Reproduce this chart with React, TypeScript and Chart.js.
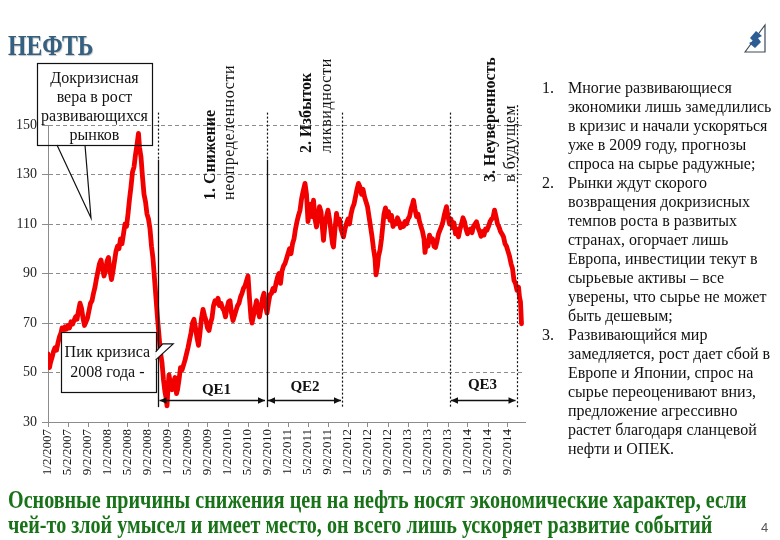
import React, { useEffect, useRef } from 'react';
import { Chart, registerables } from 'chart.js';

Chart.register(...registerables);

// Month index: 0 = 1/2/2007, one unit = one month
const monthIdx = [
  0.0, 0.3, 0.5, 0.8, 1.1, 1.4, 1.7, 2.0, 2.3, 2.6, 2.8, 3.1, 3.4, 3.7, 4.0, 4.3, 4.6, 4.9, 5.2, 5.5, 5.8,
  6.1, 6.4, 6.7, 7.0, 7.3, 7.6, 7.9, 8.2, 8.5, 8.8, 9.1, 9.4, 9.7, 10.0, 10.3, 10.6, 10.9, 11.2, 11.5, 11.8,
  12.1, 12.4, 12.7, 13.0, 13.3, 13.6, 13.9, 14.2, 14.5, 14.8, 15.1, 15.4, 15.7, 16.0, 16.3, 16.6, 16.9, 17.2,
  17.5, 17.8, 18.1, 18.3, 18.6, 18.9, 19.2, 19.5, 19.8, 20.1, 20.4, 20.7, 21.0, 21.3, 21.6, 21.9, 22.2, 22.5,
  22.8, 23.1, 23.4, 23.6, 23.8, 24.0, 24.2, 24.5, 24.8, 25.1, 25.4, 25.7, 25.9, 26.2, 26.5, 26.8, 27.1, 27.4,
  27.7, 28.0, 28.3, 28.6, 28.9, 29.2, 29.5, 29.8, 30.1, 30.4, 30.7, 31.0, 31.3, 31.6, 31.9, 32.2, 32.5, 32.8,
  33.1, 33.4, 33.7, 34.0, 34.3, 34.6, 34.9, 35.2, 35.5, 35.8, 36.1, 36.4, 36.7, 37.0, 37.3, 37.6, 37.9, 38.2,
  38.5, 38.8, 39.1, 39.4, 39.7, 40.0, 40.3, 40.6, 40.8, 41.1, 41.4, 41.7, 42.0, 42.3, 42.6, 42.9, 43.2, 43.5,
  43.8, 44.1, 44.4, 44.7, 45.0, 45.3, 45.6, 45.9, 46.2, 46.5, 46.8, 47.1, 47.4, 47.7, 48.0, 48.3, 48.6, 48.9,
  49.2, 49.5, 49.8, 50.1, 50.4, 50.7, 51.0, 51.4, 51.7, 52.0, 52.2, 52.5, 52.8, 53.1, 53.4, 53.7, 54.0, 54.3,
  54.6, 54.9, 55.1, 55.4, 55.7, 56.0, 56.3, 56.6, 56.9, 57.1, 57.4, 57.7, 58.0, 58.3, 58.6, 58.9, 59.1, 59.4,
  59.7, 60.0, 60.3, 60.6, 60.9, 61.2, 61.5, 61.8, 62.1, 62.4, 62.7, 63.0, 63.3, 63.6, 63.9, 64.2, 64.5, 64.8,
  65.1, 65.4, 65.6, 65.9, 66.1, 66.4, 66.7, 67.0, 67.2, 67.5, 67.8, 68.1, 68.4, 68.7, 69.0, 69.3, 69.6, 69.9,
  70.2, 70.5, 70.8, 71.1, 71.4, 71.7, 72.0, 72.3, 72.6, 72.9, 73.1, 73.4, 73.7, 74.0, 74.3, 74.6, 74.9, 75.2,
  75.4, 75.7, 76.0, 76.3, 76.6, 76.9, 77.2, 77.5, 77.8, 78.1, 78.4, 78.7, 79.0, 79.3, 79.7, 80.0, 80.3, 80.6,
  80.9, 81.2, 81.5, 81.8, 82.1, 82.4, 82.7, 83.0, 83.3, 83.6, 83.9, 84.2, 84.5, 84.8, 85.1, 85.4, 85.7, 86.0,
  86.3, 86.6, 86.9, 87.2, 87.5, 87.8, 88.1, 88.4, 88.7, 89.0, 89.3, 89.6, 89.9, 90.2, 90.5, 90.8, 91.1, 91.4,
  91.7, 92.0, 92.3, 92.6, 92.9, 93.2, 93.5, 93.8, 94.1, 94.3, 94.5, 94.7,
];

const oilPrice = [
  57.5, 52, 54, 56, 58.5, 60, 59, 62, 64.5, 66, 68, 67, 68.5, 67.5, 69, 68, 70.5, 69.5, 71, 72.5, 71.5,
  75, 78, 76, 72, 69, 70.5, 72, 75, 78, 79, 82, 84.5, 88, 91, 94, 95.5, 92, 89, 91, 95,
  96.5, 91, 87.5, 91, 95, 99, 101, 100, 104, 102, 106, 110, 109, 114, 120, 125, 131, 133,
  138, 142, 146.6, 141, 137, 129, 122, 119, 114, 112, 108, 101, 96, 88, 80, 72, 65, 58,
  54, 47, 42, 40, 36.5, 44, 49, 45, 43, 46, 48, 41.5, 43, 47, 52, 51, 53, 55,
  57.5, 60, 63, 66, 70, 71.5, 68, 64, 61, 66, 72, 75.5, 73, 71, 68, 67, 70, 72,
  77, 79, 78, 80, 77, 78, 76, 75, 72.5, 76, 78.5, 79, 74, 71, 73, 75, 77, 78,
  80.5, 82, 84, 85, 87, 89, 80, 72, 70, 73, 76, 79, 75, 72.5, 76, 80, 82, 77,
  74, 78, 81.5, 82, 84, 83, 86, 88.5, 90, 86, 91, 93, 94, 96, 98, 100, 98, 102,
  104, 108, 111, 113.5, 115.5, 120, 123, 126.4, 122, 111, 114, 118, 113, 119.6, 112, 108.8, 113, 117,
  115, 108, 103.4, 110, 113, 115.6, 112, 107, 102, 100.7, 108, 114.3, 110, 112, 108, 106, 104.8, 108,
  110.2, 112, 110, 114, 116.5, 118, 121, 124, 126.4, 125, 122, 124, 121, 119, 117, 113, 109, 105,
  100, 96, 89.5, 93, 97, 99.5, 104, 110, 114, 116.5, 113, 115, 111.5, 113.5, 109, 111, 110, 112.5,
  111, 108.5, 110, 109, 111, 110, 112, 113, 116, 118, 119.6, 116, 113, 114, 111, 109, 107, 104,
  98.5, 103, 101, 105.5, 103, 104, 101, 100.5, 103, 106, 107.5, 109, 111, 114, 117, 113, 110, 112,
  108.5, 110.5, 106, 108, 104.8, 108, 110, 112.5, 111, 108, 106, 107.5, 108, 106.5, 109, 110, 110.9, 108.5,
  107, 105, 107, 105.5, 108, 107.5, 109, 110.9, 112, 112.5, 115.6, 113, 110, 108.8, 107, 106, 104.8, 102,
  101, 99, 97, 94, 92, 87.2, 86, 83.2, 84.5, 80.5, 78.5, 69.7,
];

const tickLabels = [
  '1/2/2007', '5/2/2007', '9/2/2007', '1/2/2008', '5/2/2008', '9/2/2008',
  '1/2/2009', '5/2/2009', '9/2/2009', '1/2/2010', '5/2/2010', '9/2/2010',
  '1/2/2011', '5/2/2011', '9/2/2011', '1/2/2012', '5/2/2012', '9/2/2012',
  '1/2/2013', '5/2/2013', '9/2/2013', '1/2/2014', '5/2/2014', '9/2/2014',
];
const tickMonths = [0, 4, 8, 12, 16, 20, 24, 28, 32, 36, 40, 44, 48, 52, 56, 60, 64, 68, 72, 76, 80, 84, 88, 92];

const yMin = 30;
const yMax = 150;
const yStep = 20;
const xMax = 95.4;

// Annotation layer (in data units: months / price)
const phaseLines = [
  { m: 22, top: 155, solidFrom: 136, bottom: 36 },
  { m: 43.7, top: 155, solidFrom: 136, bottom: 36 },
  { m: 58.9, top: 155, solidFrom: null, bottom: 36 },
  { m: 80.3, top: 155, solidFrom: null, bottom: 36 },
  { m: 93.8, top: 158, solidFrom: null, bottom: 36 },
];
const qePeriods = [
  { label: 'QE1', from: 22, to: 43.7, labelM: 33.7, labelV: 42.7 },
  { label: 'QE2', from: 43.7, to: 58.9, labelM: 51.4, labelV: 44.1 },
  { label: 'QE3', from: 80.3, to: 93.8, labelM: 86.9, labelV: 44.9 },
];
const qeArrowV = 38.9;

const phaseLabels = [
  { text: '1. Снижение', bold: true, m: 32.6, v: 119.7 },
  { text: 'неопределенности', bold: false, m: 36.4, v: 119.7 },
  { text: '2. Избыток', bold: true, m: 51.8, v: 138.7 },
  { text: 'ликвидности', bold: false, m: 55.8, v: 138.7 },
  { text: '3. Неуверенность', bold: true, m: 88.6, v: 127 },
  { text: 'в будущем', bold: false, m: 92.6, v: 127 },
];

const calloutPre = {
  lines: ['Докризисная', 'вера в рост', 'развивающихся', 'рынков'],
  left: -2.2, right: 20.8, top: 175, bottom: 141.9,
  baseA: 1.8, baseB: 7.4, tipM: 8.6, tipV: 112.4,
};
const calloutPeak = {
  lines: ['Пик кризиса', '2008 года -'],
  left: 2.6, right: 21.54, top: 66.4, bottom: 42.1,
};

const notes = [
  { num: '1.', lines: ['Многие развивающиеся', 'экономики лишь замедлились', 'в кризис и начали ускоряться', 'уже в 2009 году, прогнозы', 'спроса на сырье радужные;'] },
  { num: '2.', lines: ['Рынки ждут скорого', 'возвращения докризисных', 'темпов роста в развитых', 'странах, огорчает лишь', 'Европа, инвестиции текут в', 'сырьевые активы – все', 'уверены, что сырье не может', 'быть дешевым;'] },
  { num: '3.', lines: ['Развивающийся мир', 'замедляется, рост дает сбой в', 'Европе и Японии, спрос на', 'сырье переоценивают вниз,', 'предложение агрессивно', 'растет благодаря сланцевой', 'нефти и ОПЕК.'] },
];

const conclusion = [
  'Основные причины снижения цен на нефть носят экономические характер, если',
  'чей-то злой умысел и имеет место, он всего лишь ускоряет развитие событий',
];

const SERIF = '"Liberation Serif", "Times New Roman", serif';

const overlayPlugin = {
  id: 'overlay',
  afterDatasetsDraw(chart: any) {
    const { ctx } = chart;
    const xs = chart.scales.x;
    const ys = chart.scales.y;
    const px = (m: number) => xs.getPixelForValue(m);
    const py = (v: number) => ys.getPixelForValue(v);
    ctx.save();

    // vertical phase lines
    phaseLines.forEach((pl) => {
      const x = Math.round(px(pl.m)) + 0.5;
      ctx.strokeStyle = '#111';
      ctx.lineWidth = 1.2;
      ctx.setLineDash([2, 2]);
      ctx.beginPath();
      ctx.moveTo(x, py(pl.top));
      ctx.lineTo(x, py(pl.solidFrom ?? pl.bottom));
      ctx.stroke();
      if (pl.solidFrom != null) {
        ctx.setLineDash([]);
        ctx.lineWidth = 1.3;
        ctx.beginPath();
        ctx.moveTo(x, py(pl.solidFrom));
        ctx.lineTo(x, py(pl.bottom));
        ctx.stroke();
      }
    });
    ctx.setLineDash([]);

    // QE arrows
    const ay = Math.round(py(qeArrowV)) + 0.5;
    const head = (x: number, dir: number) => {
      ctx.beginPath();
      ctx.moveTo(x, ay);
      ctx.lineTo(x - dir * 7, ay - 3.2);
      ctx.lineTo(x - dir * 7, ay + 3.2);
      ctx.closePath();
      ctx.fill();
    };
    qePeriods.forEach((q) => {
      const x1 = px(q.from) + 1.5;
      const x2 = px(q.to) - 1.5;
      ctx.strokeStyle = '#111';
      ctx.fillStyle = '#111';
      ctx.lineWidth = 1.3;
      ctx.beginPath();
      ctx.moveTo(x1, ay);
      ctx.lineTo(x2, ay);
      ctx.stroke();
      head(x1, -1);
      head(x2, 1);
      ctx.font = `bold 15px ${SERIF}`;
      ctx.textAlign = 'center';
      ctx.textBaseline = 'middle';
      ctx.fillText(q.label, px(q.labelM), py(q.labelV));
    });

    // rotated phase labels
    phaseLabels.forEach((l) => {
      ctx.save();
      ctx.translate(px(l.m), py(l.v));
      ctx.rotate(-Math.PI / 2);
      ctx.font = `${l.bold ? 'bold ' : ''}16px ${SERIF}`;
      ctx.fillStyle = '#111';
      ctx.textAlign = 'left';
      ctx.textBaseline = 'middle';
      try { (ctx as any).letterSpacing = l.bold ? '0px' : '0.6px'; } catch (e) { /* ignore */ }
      ctx.fillText(l.text, 0, 0);
      ctx.restore();
    });
    try { (ctx as any).letterSpacing = '0px'; } catch (e) { /* ignore */ }

    // callout: pre-crisis belief
    {
      const c = calloutPre;
      const l = px(c.left), r = px(c.right), t = py(c.top), b = py(c.bottom);
      ctx.strokeStyle = '#111';
      ctx.lineWidth = 1.2;
      ctx.strokeRect(Math.round(l) + 0.5, Math.round(t) + 0.5, Math.round(r - l), Math.round(b - t));
      ctx.beginPath();
      ctx.moveTo(px(c.baseA), b);
      ctx.lineTo(px(c.tipM), py(c.tipV));
      ctx.lineTo(px(c.baseB), b);
      ctx.stroke();
      ctx.fillStyle = '#111';
      ctx.font = `16px ${SERIF}`;
      ctx.textAlign = 'center';
      ctx.textBaseline = 'middle';
      c.lines.forEach((s, i) => ctx.fillText(s, (l + r) / 2, t + 16 + i * 19));
    }

    // callout: crisis peak
    {
      const c = calloutPeak;
      const l = px(c.left), r = px(c.right), t = py(c.top), b = py(c.bottom);
      ctx.fillStyle = '#fff';
      ctx.fillRect(l, t, r - l, b - t);
      ctx.strokeStyle = '#111';
      ctx.lineWidth = 1.2;
      ctx.strokeRect(Math.round(l) + 0.5, Math.round(t) + 0.5, Math.round(r - l), Math.round(b - t));
      // pointer
      ctx.beginPath();
      ctx.moveTo(r, t + 20);
      ctx.lineTo(r + 7, t + 12);
      ctx.lineTo(r + 17.5, t + 12);
      ctx.lineTo(r, t + 28);
      ctx.fillStyle = '#fff';
      ctx.fill();
      ctx.stroke();
      ctx.fillStyle = '#111';
      ctx.font = `16px ${SERIF}`;
      ctx.textAlign = 'center';
      ctx.textBaseline = 'middle';
      c.lines.forEach((s, i) => ctx.fillText(s, (l + r) / 2 - 1, t + 21 + i * 20));
    }
    ctx.restore();
  },
};

function App() {
  const ref = useRef<HTMLCanvasElement | null>(null);

  useEffect(() => {
    if (!ref.current) return;
    const points = monthIdx.map((m, i) => ({ x: m, y: oilPrice[i] }));
    const chart = new Chart(ref.current, {
      type: 'line',
      data: {
        datasets: [
          {
            data: points,
            borderColor: '#f20000',
            borderWidth: 4.8,
            pointRadius: 0,
            tension: 0,
            borderJoinStyle: 'round',
            borderCapStyle: 'round',
          } as any,
        ],
      },
      options: {
        animation: false,
        responsive: false,
        maintainAspectRatio: false,
        events: [],
        layout: { padding: { left: 0, top: 125, right: 255, bottom: 58 } },
        plugins: { legend: { display: false }, tooltip: { enabled: false } },
        scales: {
          x: {
            type: 'linear',
            min: 0,
            max: xMax,
            afterFit: (s: any) => { s.height = 60; },
            afterBuildTicks: (s: any) => { s.ticks = tickMonths.map((v) => ({ value: v })); },
            grid: { drawOnChartArea: false, drawTicks: true, tickLength: 5, color: '#8c8c8c' },
            border: { display: true, color: '#8c8c8c', width: 1 },
            ticks: {
              autoSkip: false,
              maxRotation: 90,
              minRotation: 90,
              padding: 2,
              color: '#111',
              font: { family: SERIF, size: 13 },
              callback: (_v: any, i: number) => tickLabels[i],
            },
          },
          y: {
            min: yMin,
            max: yMax,
            afterFit: (s: any) => { s.width = 48; },
            grid: {
              color: (c: any) => (c.tick && c.tick.value === yMin ? 'rgba(0,0,0,0)' : '#8c8c8c'),
              tickColor: '#8c8c8c',
              tickLength: 6,
              lineWidth: 1,
            },
            border: { display: true, color: '#8c8c8c', width: 1, dash: [4, 3] },
            ticks: {
              stepSize: yStep,
              padding: 5,
              color: '#222',
              font: { family: SERIF, size: 14 },
            },
          },
        },
      },
      plugins: [overlayPlugin],
    });
    return () => chart.destroy();
  }, []);

  let lineNo = 0;
  const noteRows: any[] = [];
  notes.forEach((n) => {
    n.lines.forEach((s, j) => {
      const top = 77.5 + lineNo * 19;
      if (j === 0) {
        noteRows.push(
          <div key={`n${lineNo}`} style={{ position: 'absolute', left: 542, top, lineHeight: '19px', fontSize: 16, whiteSpace: 'nowrap' }}>{n.num}</div>
        );
      }
      noteRows.push(
        <div key={`l${lineNo}`} style={{ position: 'absolute', left: 568, top, lineHeight: '19px', fontSize: 16, whiteSpace: 'nowrap' }}>{s}</div>
      );
      lineNo += 1;
    });
  });

  return (
    <div style={{ position: 'fixed', left: 0, top: 0, width: 780, height: 540, background: '#fff', overflow: 'hidden', fontFamily: SERIF, color: '#111' }}>
      <canvas ref={ref} width={780} height={540} style={{ position: 'absolute', left: 0, top: 0, width: 780, height: 540 }} />
      <div style={{ position: 'absolute', left: 8, top: 27, fontSize: 30, lineHeight: '36px', fontWeight: 'bold', color: '#35607f', whiteSpace: 'nowrap', transform: 'scaleX(0.79)', transformOrigin: 'left center', textShadow: '1px 1px 1px rgba(0,0,0,0.25)' }}>НЕФТЬ</div>
      <svg style={{ position: 'absolute', left: 735, top: 20 }} width={40} height={40} viewBox="0 0 40 40">
        <path d="M10 32 L30 5 L30 32 Z" fill="none" stroke="#3b4a5a" strokeWidth={1.2} />
        <path d="M15 18 L21 11 L27 16 L23 18 L26 22 L20 28 L14 23 L18 21 Z" fill="#2c5d95" />
      </svg>
      {noteRows}
      {conclusion.map((s, i) => (
        <div key={`c${i}`} style={{ position: 'absolute', left: 8, top: 487 + i * 25, fontSize: 25, lineHeight: '25px', fontWeight: 'bold', color: '#187318', whiteSpace: 'nowrap', transform: 'scaleX(0.804)', transformOrigin: 'left center' }}>{s}</div>
      ))}
      <div style={{ position: 'absolute', left: 761, top: 520, fontSize: 13, lineHeight: '16px', fontFamily: '"Liberation Sans", Arial, sans-serif', color: '#555' }}>4</div>
    </div>
  );
}

export default App;
